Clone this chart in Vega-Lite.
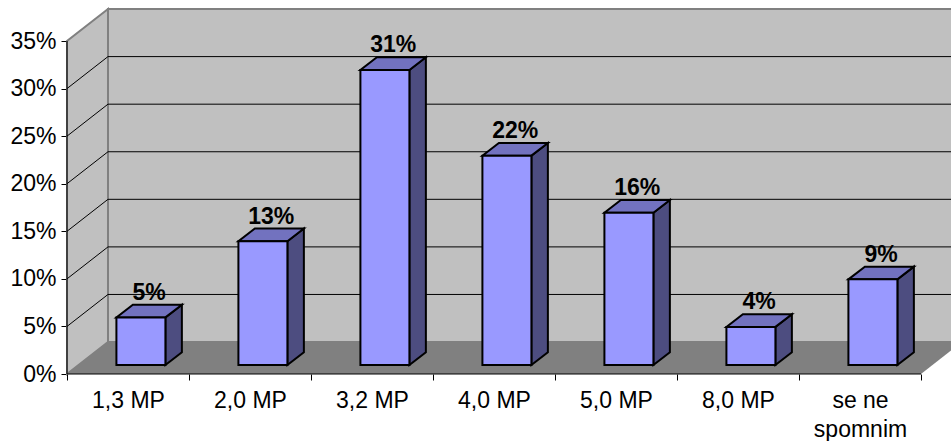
{
  "$schema": "https://vega.github.io/schema/vega-lite/v6.json",
  "width": 884,
  "height": 374,
  "autosize": {"type": "none"},
  "padding": {"left": 67, "top": 0, "right": 0, "bottom": 67},
  "background": "white",
  "view": {"stroke": null},
  "resolve": {"axis": {"x": "independent", "y": "independent"}},
  "datasets": {
    "bars": [
      {"label": "1,3 MP", "share": 5},
      {"label": "2,0 MP", "share": 13},
      {"label": "3,2 MP", "share": 31},
      {"label": "4,0 MP", "share": 22},
      {"label": "5,0 MP", "share": 16},
      {"label": "8,0 MP", "share": 4},
      {"label": "se ne spomnim", "share": 9}
    ],
    "leftWall": [
      {"x": 0, "low": 0, "high": 35},
      {"x": 0.336, "low": 3.36, "high": 38.36}
    ],
    "backWall": [
      {"x": 0.336, "x2": 7.5, "low": 3.36, "high": 38.36}
    ],
    "floor": [
      {"x": 0, "low": 0, "high": 0},
      {"x": 0.336, "low": 0, "high": 3.36},
      {"x": 7, "low": 0, "high": 3.36},
      {"x": 7.336, "low": 3.36, "high": 3.36}
    ],
    "grid": [
      {"pct": 5}, {"pct": 10}, {"pct": 15}, {"pct": 20}, {"pct": 25}, {"pct": 30}
    ],
    "frame": [
      {"x": 0, "x2": 0, "y": 0, "y2": 35},
      {"x": 0, "x2": 7, "y": 0, "y2": 0}
    ]
  },
  "layer": [
    {
      "data": {"name": "backWall"},
      "mark": {"type": "rect", "fill": "#C0C0C0", "stroke": "#808080", "strokeWidth": 2, "clip": true},
      "encoding": {
        "x": {
          "field": "x", "type": "quantitative",
          "scale": {"domain": [0, 7.2459], "nice": false, "zero": false},
          "axis": {
            "values": [0, 1, 2, 3, 4, 5, 6, 7],
            "title": null, "grid": false, "domain": false,
            "ticks": true, "labels": true,
            "tickSize": 6, "tickColor": "black", "tickWidth": 1,
            "labelOffset": 61, "labelPadding": 9,
            "labelFont": "Liberation Sans", "labelFontSize": 23, "labelColor": "black",
            "labelLineHeight": 29, "labelOverlap": false, "labelBound": false, "labelFlush": false,
            "labelExpr": "['1,3 MP', '2,0 MP', '3,2 MP', '4,0 MP', '5,0 MP', '8,0 MP', ['se ne', 'spomnim'], ''][datum.value]"
          }
        },
        "x2": {"field": "x2"},
        "y": {
          "field": "low", "type": "quantitative",
          "scale": {"domain": [0, 39.31], "nice": false, "zero": false},
          "axis": {
            "values": [0, 5, 10, 15, 20, 25, 30, 35],
            "title": null, "grid": false, "domain": false,
            "ticks": true, "labels": true,
            "tickSize": 6, "tickColor": "black", "tickWidth": 1,
            "labelPadding": 5,
            "labelFont": "Liberation Sans", "labelFontSize": 23, "labelColor": "black",
            "labelOverlap": false, "labelBound": false, "labelFlush": false,
            "labelExpr": "datum.value + '%'"
          }
        },
        "y2": {"field": "high"}
      }
    },
    {
      "data": {"name": "leftWall"},
      "mark": {"type": "area", "orient": "vertical", "fill": "#C0C0C0", "stroke": "#808080", "strokeWidth": 2},
      "encoding": {
        "x": {"field": "x", "type": "quantitative", "scale": {"domain": [0, 7.2459], "nice": false, "zero": false}, "axis": null},
        "y": {"field": "low", "type": "quantitative", "scale": {"domain": [0, 39.31], "nice": false, "zero": false}, "axis": null},
        "y2": {"field": "high"}
      }
    },
    {
      "data": {"name": "floor"},
      "mark": {"type": "area", "orient": "vertical", "fill": "#808080", "clip": true},
      "encoding": {
        "x": {"field": "x", "type": "quantitative", "scale": {"domain": [0, 7.2459], "nice": false, "zero": false}, "axis": null},
        "y": {"field": "low", "type": "quantitative", "scale": {"domain": [0, 39.31], "nice": false, "zero": false}, "axis": null},
        "y2": {"field": "high"}
      }
    },
    {
      "data": {"name": "grid"},
      "transform": [{"calculate": "datum.pct + 3.36", "as": "back"}],
      "mark": {"type": "rule", "color": "black", "strokeWidth": 1, "clip": true},
      "encoding": {
        "x": {"datum": 0.336, "type": "quantitative", "scale": {"domain": [0, 7.2459], "nice": false, "zero": false}, "axis": null},
        "x2": {"datum": 7.5},
        "y": {"field": "back", "type": "quantitative", "scale": {"domain": [0, 39.31], "nice": false, "zero": false}, "axis": null}
      }
    },
    {
      "data": {"name": "grid"},
      "transform": [{"calculate": "datum.pct + 3.36", "as": "back"}],
      "mark": {"type": "rule", "color": "black", "strokeWidth": 1},
      "encoding": {
        "x": {"datum": 0, "type": "quantitative", "scale": {"domain": [0, 7.2459], "nice": false, "zero": false}, "axis": null},
        "x2": {"datum": 0.336},
        "y": {"field": "pct", "type": "quantitative", "scale": {"domain": [0, 39.31], "nice": false, "zero": false}, "axis": null},
        "y2": {"field": "back"}
      }
    },
    {
      "data": {"name": "frame"},
      "mark": {"type": "rule", "color": "black", "strokeWidth": 1},
      "encoding": {
        "x": {"field": "x", "type": "quantitative", "scale": {"domain": [0, 7.2459], "nice": false, "zero": false}, "axis": null},
        "x2": {"field": "x2"},
        "y": {"field": "y", "type": "quantitative", "scale": {"domain": [0, 39.31], "nice": false, "zero": false}, "axis": null},
        "y2": {"field": "y2"}
      }
    },
    {
      "data": {"name": "bars"},
      "transform": [
        {"window": [{"op": "row_number", "as": "rank"}]},
        {"calculate": "datum.rank - 1 + 0.405 + 0.4016", "as": "edge"},
        {"calculate": "[0, 1]", "as": "end"},
        {"flatten": ["end"]},
        {"calculate": "datum.edge + datum.end * 0.135", "as": "px"},
        {"calculate": "0.95 + datum.end * 1.335", "as": "low"},
        {"calculate": "datum.share + 0.95 + datum.end * 1.335", "as": "high"}
      ],
      "mark": {"type": "area", "orient": "vertical", "fill": "#4D4D80", "stroke": "black", "strokeWidth": 2, "strokeJoin": "miter"},
      "encoding": {
        "x": {"field": "px", "type": "quantitative", "scale": {"domain": [0, 7.2459], "nice": false, "zero": false}, "axis": null},
        "y": {"field": "low", "type": "quantitative", "scale": {"domain": [0, 39.31], "nice": false, "zero": false}, "axis": null},
        "y2": {"field": "high"},
        "detail": {"field": "label"}
      }
    },
    {
      "data": {"name": "bars"},
      "transform": [
        {"window": [{"op": "row_number", "as": "rank"}]},
        {"calculate": "datum.rank - 1 + 0.405", "as": "edge"},
        {"calculate": "[0, 1, 2, 3]", "as": "corner"},
        {"flatten": ["corner"]},
        {"calculate": "datum.edge + [0, 0.135, 0.4016, 0.5366][datum.corner]", "as": "px"},
        {"calculate": "datum.share + 0.95 + [0, 0, 0, 1.335][datum.corner]", "as": "low"},
        {"calculate": "datum.share + 0.95 + [0, 1.335, 1.335, 1.335][datum.corner]", "as": "high"}
      ],
      "mark": {"type": "area", "orient": "vertical", "fill": "#7272BF", "stroke": "black", "strokeWidth": 2, "strokeJoin": "miter"},
      "encoding": {
        "x": {"field": "px", "type": "quantitative", "scale": {"domain": [0, 7.2459], "nice": false, "zero": false}, "axis": null},
        "y": {"field": "low", "type": "quantitative", "scale": {"domain": [0, 39.31], "nice": false, "zero": false}, "axis": null},
        "y2": {"field": "high"},
        "detail": {"field": "label"}
      }
    },
    {
      "data": {"name": "bars"},
      "transform": [
        {"window": [{"op": "row_number", "as": "rank"}]},
        {"calculate": "datum.rank - 1 + 0.405", "as": "left"},
        {"calculate": "datum.left + 0.4016", "as": "right"},
        {"calculate": "0.95", "as": "base"},
        {"calculate": "datum.share + 0.95", "as": "top"}
      ],
      "mark": {"type": "rect", "fill": "#9999FF", "stroke": "black", "strokeWidth": 2},
      "encoding": {
        "x": {"field": "left", "type": "quantitative", "scale": {"domain": [0, 7.2459], "nice": false, "zero": false}, "axis": null},
        "x2": {"field": "right"},
        "y": {"field": "base", "type": "quantitative", "scale": {"domain": [0, 39.31], "nice": false, "zero": false}, "axis": null},
        "y2": {"field": "top"}
      }
    },
    {
      "data": {"name": "bars"},
      "transform": [
        {"window": [{"op": "row_number", "as": "rank"}]},
        {"calculate": "datum.rank - 1 + 0.405 + 0.2683", "as": "mid"},
        {"calculate": "datum.share + 0.95 + 1.335", "as": "top"},
        {"calculate": "datum.share + '%'", "as": "caption"}
      ],
      "mark": {"type": "text", "font": "Liberation Sans", "fontSize": 23, "fontWeight": "bold", "color": "black", "baseline": "alphabetic", "align": "center", "dy": -5},
      "encoding": {
        "x": {"field": "mid", "type": "quantitative", "scale": {"domain": [0, 7.2459], "nice": false, "zero": false}, "axis": null},
        "y": {"field": "top", "type": "quantitative", "scale": {"domain": [0, 39.31], "nice": false, "zero": false}, "axis": null},
        "text": {"field": "caption"}
      }
    }
  ]
}
